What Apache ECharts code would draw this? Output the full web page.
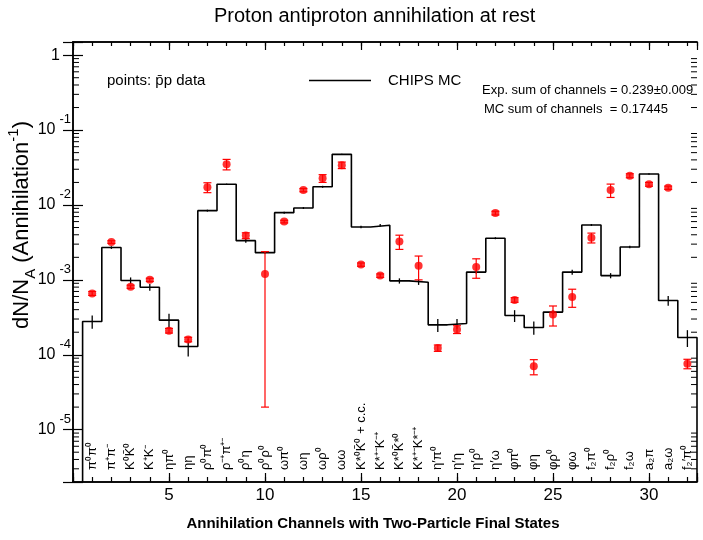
<!DOCTYPE html>
<html><head><meta charset="utf-8">
<script src="https://cdn.jsdelivr.net/npm/echarts/dist/echarts.min.js"></script>
<style>html,body{margin:0;padding:0;background:#fff}#c{width:703px;height:540px}</style>
</head><body><div id="c"></div>
<script>
// ---- data ----
const channels = ['π⁰π⁰','π⁺π⁻','K⁰K̄⁰','K⁺K⁻','ηπ⁰','ηη','ρ⁰π⁰','ρ⁻⁺π⁺⁻','ρ⁰η','ρ⁰ρ⁰',
  'ωπ⁰','ωη','ωρ⁰','ωω','K*⁰K̄⁰ + c.c.','K*⁺⁻K⁻⁺','K*⁰K̄*⁰','K*⁺⁻K*⁻⁺','η′π⁰','η′η',
  'η′ρ⁰','η′ω','φπ⁰','φη','φρ⁰','φω','f₂π⁰','f₂ρ⁰','f₂ω','a₂π','a₂ω','f₂′π⁰'];
const expValues = [6.6e-4,3.2e-3,8.1e-4,1.0e-3,2.1e-4,1.6e-4,1.72e-2,3.5e-2,3.9e-3,1.2e-3,
  6.0e-3,1.58e-2,2.27e-2,3.4e-2,1.6e-3,1.14e-3,3.25e-3,1.54e-3,1.23e-4,2.18e-4,
  1.48e-3,7.8e-3,5.4e-4,7.0e-5,3.45e-4,5.9e-4,3.66e-3,1.58e-2,2.46e-2,1.89e-2,1.70e-2,7.6e-5];
const expErrors = [4e-5,1.3e-4,4e-5,5e-5,1.5e-5,1.1e-5,2.6e-3,5.6e-3,3.5e-4,1.18e-3,
  2.4e-4,8e-4,2.7e-3,3.4e-3,8e-5,6e-5,7e-4,5.4e-4,1.2e-5,2.6e-5,
  4.3e-4,4.5e-4,3.8e-5,1.6e-5,1.03e-4,1.6e-4,5.5e-4,3.2e-3,1.5e-3,1.1e-3,8.5e-4,1.1e-5];
const mcValues = [2.78e-4,2.70e-3,9.8e-4,7.98e-4,2.9e-4,1.29e-4,8.4e-3,1.89e-2,3.34e-3,2.31e-3,
  7.9e-3,9.1e-3,1.75e-2,4.74e-2,5.09e-3,5.36e-3,9.7e-4,9.3e-4,2.51e-4,2.62e-4,
  1.27e-3,3.6e-3,3.34e-4,2.31e-4,3.71e-4,1.27e-3,5.41e-3,1.14e-3,2.75e-3,2.59e-2,5.3e-4,1.7e-4];
const mcErrors = [5.6e-5,1.1e-4,9.8e-5,8e-5,6.4e-5,3.4e-5,2.5e-4,3.8e-4,2e-4,7e-5,
  2.4e-4,2.7e-4,5.3e-4,9.5e-4,2e-4,2.1e-4,7.8e-5,7.4e-5,5e-5,3.9e-5,
  5e-5,1.1e-4,6e-5,4.6e-5,1.9e-5,1e-4,1.6e-4,9e-5,1.1e-4,5.2e-4,8e-5,4.3e-5];
const xTickLabels = [5,10,15,20,25,30];
const yDecades = [-6,-5,-4,-3,-2,-1,0];
const minorMultipliers = [2,3,4,5,6,7,8,9];

const X_MIN = 0, X_MAX = 32.5, Y_MIN = 2e-6, Y_MAX = 1.5;
const FONT = "'Liberation Sans', Arial, Helvetica, sans-serif";

const stepData = [[0.5, Y_MIN]].concat(mcValues.map((v,i)=>[i+0.5, v]))
  .concat([[mcValues.length+0.5, mcValues[mcValues.length-1]], [mcValues.length+0.5, Y_MIN]]);
const minorTicks = [];
yDecades.forEach(e => minorMultipliers.forEach(m => { const v = m*Math.pow(10,e); if (v > Y_MIN*1.001 && v < Y_MAX) minorTicks.push([X_MIN, v]); }));

const chart = echarts.init(document.getElementById('c'), null, {renderer:'canvas'});
const axisLine = {show:true, lineStyle:{color:'#000', width:1.5}};
function xAx(pos, interval, len, labels){
  return {type:'value', position:pos, min:X_MIN, max:X_MAX, interval:interval,
    axisLine:axisLine, splitLine:{show:false},
    axisTick:{show:true, inside:true, length:len, lineStyle:{color:'#000', width:1.2}},
    axisLabel: labels ? {show:true, margin:5, fontSize:17, color:'#000', fontFamily:FONT,
      formatter: v => xTickLabels.indexOf(v) >= 0 ? String(v) : ''} : {show:false}};
}
const yLabel = {show:true, margin:2, color:'#000', fontFamily:FONT, padding:[0,0,9,0],
  formatter: function(v){ const e = Math.log10(v); const r = Math.round(e);
    if (Math.abs(e-r) > 1e-6 || yDecades.indexOf(r) < 0) return '';
    if (r === 0) return '{b|1}{s|  }';
    return '{b|10}{s|' + r + '}'; },
  rich:{ b:{fontSize:16, fontFamily:FONT, color:'#000', padding:[9,0,0,0], verticalAlign:'bottom'},
         s:{fontSize:13, fontFamily:FONT, color:'#000', padding:[0,0,0,4], verticalAlign:'top'} } };

const xAxes = [xAx('bottom',5,9,true), xAx('bottom',1,5,false), xAx('top',5,8,false), xAx('top',1,4,false)];
xAxes[0].name = 'Annihilation Channels with Two-Particle Final States';
xAxes[0].nameLocation = 'middle';
xAxes[0].nameGap = 34;
xAxes[0].nameTextStyle = {fontSize:15, fontWeight:'bold', color:'#000', fontFamily:FONT, padding:[0,24,0,0]};

const option = {
  animation:false,
  backgroundColor:'#fff',
  title:{text:'Proton antiproton annihilation at rest', left:214, top:6, padding:0,
    textStyle:{fontSize:20, fontWeight:'normal', color:'#000', fontFamily:FONT}},
  grid:{left:73, right:6, top:42, bottom:58, containLabel:false, outerBoundsMode:'none'},
  legend:[
    {data:[{name:'points: p̄p data', icon:'rect'}], itemWidth:0, itemHeight:0, left:102, top:73, padding:0,
      selectedMode:false, textStyle:{fontSize:15, color:'#000', fontFamily:FONT}},
    {data:[{name:'CHIPS MC', icon:'rect', itemStyle:{color:'#000'}}], itemWidth:62, itemHeight:1.5, left:309, top:73, padding:0,
      selectedMode:false, textStyle:{fontSize:15, color:'#000', fontFamily:FONT, padding:[0,0,0,12]}}
  ],
  graphic:[
    {type:'text', left:482, top:84, style:{text:'Exp. sum of channels = 0.239±0.009', fontSize:13, fontFamily:FONT, fill:'#000'}},
    {type:'text', left:484, top:103, style:{text:'MC sum of channels  = 0.17445', fontSize:13, fontFamily:FONT, fill:'#000'}}
  ],
  xAxis: xAxes,
  yAxis:[
    {type:'log', logBase:10, position:'left', min:Y_MIN, max:Y_MAX, axisLine:axisLine, splitLine:{show:false},
     axisTick:{show:true, inside:true, length:10, lineStyle:{color:'#000', width:1.2}}, axisLabel:yLabel,
     name:'{n|dN/N}{sub|A}{n| (Annihilation}{sup|-1}{n|)}', nameLocation:'middle', nameRotate:90, nameGap:35,
     nameMoveOverlap:false,
     nameTextStyle:{padding:[0,0,0,74], rich:{
       n:{fontSize:22, fontFamily:FONT, color:'#000', lineHeight:32},
       sub:{fontSize:15, fontFamily:FONT, color:'#000', verticalAlign:'bottom'},
       sup:{fontSize:15, fontFamily:FONT, color:'#000', verticalAlign:'top'} }}},
    {type:'log', logBase:10, position:'right', min:Y_MIN, max:Y_MAX, axisLine:axisLine, splitLine:{show:false},
     axisTick:{show:true, inside:true, length:10, lineStyle:{color:'#000', width:1.2}}, axisLabel:{show:false}}
  ],
  series:[
    {type:'custom', name:'minor', silent:true, xAxisIndex:0, yAxisIndex:0, data:minorTicks, encode:{x:0,y:1},
     renderItem:function(params, api){ const v = api.value(1);
       const L = api.coord([X_MIN, v]), R = api.coord([X_MAX, v]);
       return {type:'group', children:[
         {type:'line', shape:{x1:L[0], y1:L[1], x2:L[0]+6, y2:L[1]}, style:{stroke:'#000', lineWidth:1}},
         {type:'line', shape:{x1:R[0]-6, y1:R[1], x2:R[0], y2:R[1]}, style:{stroke:'#000', lineWidth:1}} ]}; }},
    {type:'custom', name:'labels', silent:true, xAxisIndex:0, yAxisIndex:0,
     data: channels.map((c,i)=>[i+1, Y_MIN]), encode:{x:0,y:1},
     renderItem:function(params, api){ const p = api.coord([api.value(0), Y_MIN]);
       return {type:'text', x:p[0], y:p[1]-12, rotation:Math.PI/2,
         style:{text:channels[params.dataIndex], fontSize:13, fontFamily:FONT, fill:'#000', align:'left', verticalAlign:'middle'}}; }},
    {type:'line', name:'CHIPS MC', step:'end', data:stepData, showSymbol:false, symbol:'none',
     lineStyle:{color:'#000', width:1.6}, itemStyle:{color:'#000'}, clip:false, z:3},
    {type:'custom', name:'mcerr', silent:true, data: mcValues.map((v,i)=>[i+1, v, mcErrors[i]]), encode:{x:0,y:1},
     renderItem:function(params, api){ const x = api.value(0), v = api.value(1), e = api.value(2);
       const a = api.coord([x, v+e]), b = api.coord([x, Math.max(v-e, Y_MIN)]);
       return {type:'line', shape:{x1:a[0], y1:a[1], x2:b[0], y2:b[1]}, style:{stroke:'#000', lineWidth:1.3}}; }, z:3},
    {type:'custom', name:'experr', silent:true, data: expValues.map((v,i)=>[i+1, v, expErrors[i]]), encode:{x:0,y:1},
     renderItem:function(params, api){ const x = api.value(0), v = api.value(1), e = api.value(2);
       const a = api.coord([x, v+e]), b = api.coord([x, Math.max(v-e, Y_MIN)]);
       const st = {stroke:'#ff0000', lineWidth:1.2};
       return {type:'group', children:[
         {type:'line', shape:{x1:a[0], y1:a[1], x2:b[0], y2:b[1]}, style:st},
         {type:'line', shape:{x1:a[0]-4, y1:a[1], x2:a[0]+4, y2:a[1]}, style:st},
         {type:'line', shape:{x1:b[0]-4, y1:b[1], x2:b[0]+4, y2:b[1]}, style:st} ]}; }, z:4},
    {type:'scatter', name:'points: p̄p data', data: expValues.map((v,i)=>[i+1, v]), symbol:'circle', symbolSize:8,
     itemStyle:{color:'#ff0000'}, z:5}
  ]
};
chart.setOption(option);
</script></body></html>
